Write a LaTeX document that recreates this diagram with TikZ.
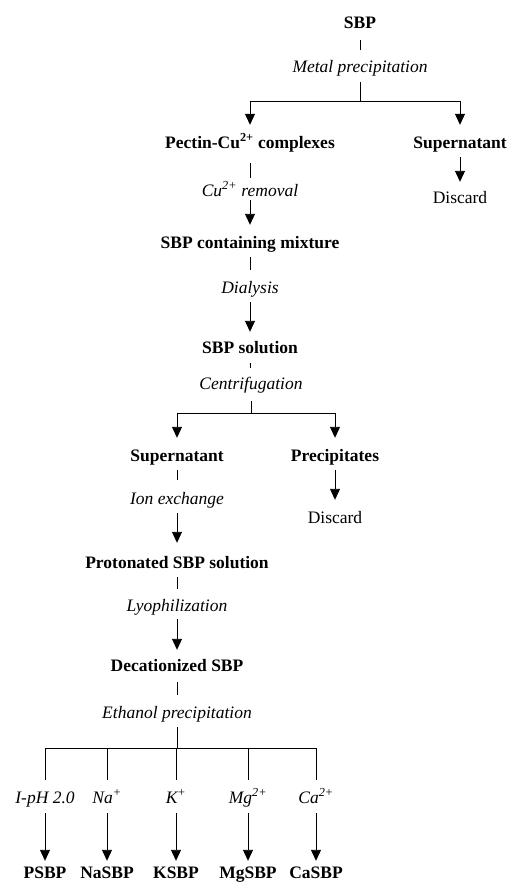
\documentclass[tikz,border=0pt]{standalone}
\usepackage{fontspec}
\setmainfont{Liberation Serif}
\usetikzlibrary{arrows.meta}

\tikzstyle{stage}=[font=\fontsize{17.5}{20}\selectfont\bfseries, inner sep=0pt, text height=12pt, text depth=4pt]
\tikzstyle{treat}=[font=\fontsize{17.5}{20}\selectfont\itshape, inner sep=0pt, text height=12pt, text depth=4pt]
\tikzstyle{waste}=[font=\fontsize{17.5}{20}\selectfont, inner sep=0pt, text height=12pt, text depth=4pt]
\tikzstyle{link}=[draw,line width=0.9pt,-]
\tikzstyle{flow}=[draw,line width=0.9pt,-{Triangle[width=10pt,length=11pt]}]

\begin{document}
\begin{tikzpicture}[x=1pt, y=-1pt]
    \useasboundingbox (0,0) rectangle (507,888);
    % First we place the products and the treatments
    \node[stage] (sbp) at (360,25) {SBP};
    \node[treat] (metal) at (360,69) {Metal precipitation};
    \coordinate (split1) at (360,101);
    \node[stage] (pectin) at (250,144) {Pectin-Cu\textsuperscript{2+} complexes};
    \node[stage] (super1) at (460,144) {Supernatant};
    \node[treat] (curemoval) at (250,192) {Cu\textsuperscript{2+} removal};
    \node[waste] (discard1) at (460,199) {Discard};
    \node[stage] (mixture) at (250,244) {SBP containing mixture};
    \node[treat] (dialysis) at (250,289) {Dialysis};
    \node[stage] (solution) at (250,349) {SBP solution};
    \node[treat] (centrif) at (251,385) {Centrifugation};
    \coordinate (split2) at (251,413);
    \node[stage] (super2) at (177,457) {Supernatant};
    \node[stage] (precip) at (335,457) {Precipitates};
    \node[treat] (ionex) at (177,500) {Ion exchange};
    \node[waste] (discard2) at (335,519) {Discard};
    \node[stage] (proton) at (177,564) {Protonated SBP solution};
    \node[treat] (lyo) at (177,607) {Lyophilization};
    \node[stage] (decat) at (177,667) {Decationized SBP};
    \node[treat] (ethanol) at (177,714) {Ethanol precipitation};
    \coordinate (split3) at (177,748);
    \foreach \x/\name/\ion in {45/P/{I-pH 2.0}, 107/Na/{Na\textsuperscript{+}}, 176/K/{K\textsuperscript{+}},
                               248/Mg/{Mg\textsuperscript{2+}}, 316/Ca/{Ca\textsuperscript{2+}}}
    {
        \node[treat] (ion\name) at (\x,799) {\ion};
        \node[stage] (\name SBP) at (\x,874) {\name SBP};
    }
    % Connect them
    \path[link, shorten <=7pt, shorten >=11pt] (sbp) -- (metal);
    \path[link, shorten <=5pt] (metal) -- (split1);
    \path[flow, shorten >=11pt] (split1) -| (pectin);
    \path[flow, shorten >=11pt] (split1) -| (super1);
    \path[link, shorten <=11pt, shorten >=6pt] (pectin) -- (curemoval);
    \path[flow, shorten >=11pt] (curemoval) -- (mixture);
    \path[flow, shorten <=5pt, shorten >=9pt] (super1) -- (discard1);
    \path[link, shorten <=5pt, shorten >=11pt] (mixture) -- (dialysis);
    \path[flow, shorten <=5pt, shorten >=9pt] (dialysis) -- (solution);
    \path[link, shorten <=6pt, shorten >=9pt] (solution) -- (centrif);
    \path[link, shorten <=8pt] (centrif) -- (split2);
    \path[flow, shorten >=11pt] (split2) -| (super2);
    \path[flow, shorten >=11pt] (split2) -| (precip);
    \path[link, shorten <=5pt, shorten >=12pt] (super2) -- (ionex);
    \path[flow, shorten <=5pt, shorten >=13pt] (ionex) -- (proton);
    \path[flow, shorten <=5pt, shorten >=11pt] (precip) -- (discard2);
    \path[link, shorten <=5pt, shorten >=10pt] (proton) -- (lyo);
    \path[flow, shorten <=4pt, shorten >=9pt] (lyo) -- (decat);
    \path[link, shorten <=7pt, shorten >=11pt] (decat) -- (ethanol);
    \path[link, shorten <=5pt] (ethanol) -- (split3);
    \foreach \name in {P,Na,K,Mg,Ca}
    {
        \path[link, shorten >=11pt] (split3) -| (ion\name);
        \path[flow, shorten <=6pt, shorten >=5pt] (ion\name) -- (\name SBP);
    }
\end{tikzpicture}
\end{document}
